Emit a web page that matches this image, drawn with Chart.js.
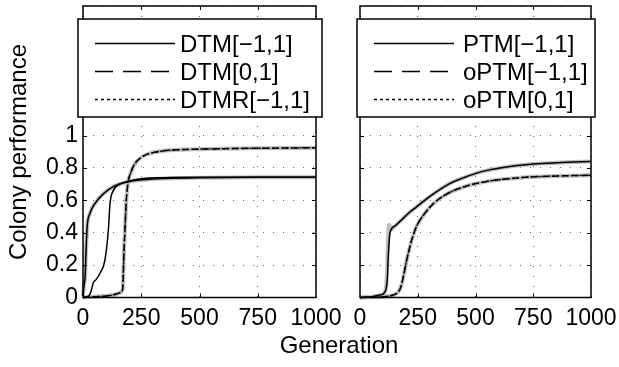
<!DOCTYPE html>
<html>
<head>
<meta charset="utf-8">
<script src="https://cdn.jsdelivr.net/npm/chart.js@4.4.0/dist/chart.umd.min.js"></script>
<style>
  html, body { margin: 0; padding: 0; background: #fff; }
  #wrap { position: relative; width: 619px; height: 367px; overflow: hidden; font-family: 'Liberation Sans', Arial, sans-serif; color: #000; }
  #left { position: absolute; left: 0; top: 0; }
  #right { position: absolute; left: 330px; top: 0; }
  #ytitle { position: absolute; left: -132px; top: 138px; width: 300px; height: 28px; line-height: 28px; text-align: center; font-size: 24px; transform: rotate(-90deg); }
  #xtitle { position: absolute; left: 239px; top: 331px; width: 200px; height: 28px; line-height: 28px; text-align: center; font-size: 24px; }
</style>
</head>
<body>
<div id="wrap">
  <canvas id="left" width="345" height="367"></canvas>
  <canvas id="right" width="289" height="367"></canvas>
  <div id="ytitle">Colony performance</div>
  <div id="xtitle">Generation</div>
</div>
<script>
// --- values ---
const xTicks = [0, 250, 500, 750, 1000];
const yTicks = [0, 0.2, 0.4, 0.6, 0.8, 1];

const leftLegend = ['DTM[\u22121,1]', 'DTM[0,1]', 'DTMR[\u22121,1]'];
const rightLegend = ['PTM[\u22121,1]', 'oPTM[\u22121,1]', 'oPTM[0,1]'];

// left panel: fast riser
const fastGen = [0, 4, 9, 13, 18, 30, 51, 87, 130, 187, 259, 350, 500, 750, 1000];
const fastVal = [0.01, 0.07, 0.13, 0.29, 0.44, 0.52, 0.58, 0.64, 0.685, 0.712, 0.727, 0.735, 0.74, 0.742, 0.742];
// left panel: late riser (solid)
const midGen = [0, 10, 25, 35, 44, 56, 73, 94, 109, 116, 130, 159, 200, 259, 350, 500, 1000];
const midVal = [0, 0.003, 0.01, 0.04, 0.09, 0.11, 0.15, 0.23, 0.42, 0.58, 0.66, 0.70, 0.72, 0.735, 0.74, 0.742, 0.742];
// left panel: steep riser up to 0.92
const steepGen = [0, 50, 100, 140, 160, 170, 176, 181, 185, 190, 195, 205, 216, 230, 245, 265, 288, 320, 358, 420, 500, 650, 800, 1000];
const steepVal = [0, 0.005, 0.01, 0.02, 0.03, 0.05, 0.29, 0.45, 0.58, 0.67, 0.725, 0.77, 0.81, 0.84, 0.86, 0.878, 0.89, 0.90, 0.908, 0.913, 0.916, 0.92, 0.922, 0.925];

// right panel: PTM (upper)
const upperGen = [0, 50, 87, 108, 118, 123, 130, 150, 173, 210, 245, 280, 318, 390, 450, 498, 550, 606, 680, 750, 870, 1000];
const upperVal = [0, 0.005, 0.015, 0.035, 0.11, 0.27, 0.40, 0.44, 0.47, 0.52, 0.56, 0.60, 0.64, 0.705, 0.74, 0.765, 0.785, 0.80, 0.815, 0.825, 0.833, 0.84];
const upperGreyGen = [0, 50, 87, 108, 116, 121, 126, 135, 150, 173, 210, 245, 280, 318, 390, 450, 498, 550, 606, 680, 750, 870, 1000];
const upperGreyVal = [0, 0.005, 0.015, 0.035, 0.12, 0.34, 0.45, 0.42, 0.44, 0.47, 0.52, 0.56, 0.60, 0.64, 0.705, 0.74, 0.765, 0.785, 0.80, 0.815, 0.825, 0.833, 0.84];
// right panel: oPTM (lower)
const lowerGen = [0, 100, 144, 166, 178, 188, 202, 223, 245, 281, 318, 390, 450, 498, 550, 606, 680, 750, 870, 1000];
const lowerVal = [0, 0.005, 0.015, 0.035, 0.07, 0.13, 0.23, 0.35, 0.44, 0.52, 0.58, 0.65, 0.683, 0.702, 0.717, 0.728, 0.738, 0.745, 0.751, 0.755];

Chart.defaults.font.family = "'Liberation Sans', Arial, sans-serif";
Chart.defaults.color = '#000';

const pts = (gen, val) => gen.map((g, i) => ({ x: g, y: val[i] }));

const line = (data, extra) => Object.assign({
    data: data,
    borderColor: '#000',
    borderWidth: 1.5,
    pointRadius: 0,
    fill: false,
    cubicInterpolationMode: 'monotone',
    clip: 4,
    order: 1,
}, extra);

const grey = (data) => line(data, { borderColor: '#bdbdbd', borderWidth: 4, order: 2 });

// inward tick marks + box frame, like the original plot
const frameTicks = {
    id: 'frameTicks',
    afterDatasetsDraw(chart) {
        const { ctx, chartArea: a, scales: { x, y } } = chart;
        ctx.save();
        ctx.strokeStyle = '#000';
        ctx.lineWidth = 1;
        ctx.beginPath();
        x.ticks.forEach(t => {
            if (t.value <= x.min || t.value >= x.max) return;
            const px = Math.round(x.getPixelForValue(t.value)) + 0.5;
            ctx.moveTo(px, a.bottom); ctx.lineTo(px, a.bottom - 4);
            ctx.moveTo(px, a.top); ctx.lineTo(px, a.top + 4);
        });
        y.ticks.forEach(t => {
            if (t.value <= y.min + 1e-6 || t.value >= y.max - 1e-6) return;
            const py = Math.round(y.getPixelForValue(t.value)) + 0.5;
            ctx.moveTo(a.left, py); ctx.lineTo(a.left + 4, py);
            ctx.moveTo(a.right, py); ctx.lineTo(a.right - 4, py);
        });
        ctx.stroke();
        ctx.lineWidth = 1.5;
        ctx.strokeRect(a.left, a.top, a.right - a.left, a.bottom - a.top);
        ctx.restore();
    }
};

// boxed legend sitting over the top of the axes
const boxLegend = {
    id: 'boxLegend',
    afterDraw(chart, args, opts) {
        const { ctx, chartArea: a } = chart;
        const x0 = a.left + opts.padL, x1 = a.right + opts.padR;
        const y0 = a.top + 13, y1 = a.top + 111;
        ctx.save();
        ctx.fillStyle = '#fff';
        ctx.fillRect(x0, y0, x1 - x0, y1 - y0);
        ctx.strokeStyle = '#000';
        ctx.lineWidth = 1.5;
        ctx.strokeRect(x0, y0, x1 - x0, y1 - y0);
        ctx.font = "24px 'Liberation Sans', Arial, sans-serif";
        ctx.fillStyle = '#000';
        ctx.textBaseline = 'alphabetic';
        opts.labels.forEach((lab, i) => {
            const yy = y0 + 24.5 + i * 28;
            ctx.lineWidth = 1.3;
            ctx.setLineDash(opts.dashes[i]);
            ctx.beginPath();
            ctx.moveTo(x0 + 17, yy);
            ctx.lineTo(x0 + 97, yy);
            ctx.stroke();
            ctx.setLineDash([]);
            ctx.fillText(lab, x0 + opts.textX, yy + 8);
        });
        ctx.restore();
    }
};

const legendDashes = [[], [18, 10], [3, 3]];

const makeScales = (showY) => ({
    x: {
        type: 'linear', min: 0, max: 1000,
        afterBuildTicks: s => { s.ticks = xTicks.map(v => ({ value: v })); },
        ticks: { font: { size: 23 }, padding: 7, maxRotation: 0, callback: v => String(v) },
        grid: { color: 'rgba(0,0,0,0.6)', lineWidth: 1, drawTicks: false },
        border: { display: false, dash: [1, 9] },
        afterFit: s => { s.height = 69.5; s.paddingLeft = 0; s.paddingRight = 0; }
    },
    y: {
        type: 'linear', min: 0, max: 1.8,
        ticks: {
            display: showY, stepSize: 0.2, font: { size: 23 }, padding: 5,
            callback: v => yTicks.some(t => Math.abs(t - v) < 1e-6) ? String(Math.round(v * 10) / 10) : ''
        },
        grid: { color: 'rgba(0,0,0,0.6)', lineWidth: 1, drawTicks: false },
        border: { display: false, dash: [1, 9] },
        afterFit: s => { s.width = showY ? 83 : 0; s.paddingTop = 0; s.paddingBottom = 0; }
    }
});

new Chart(document.getElementById('left'), {
    type: 'line',
    data: {
        datasets: [
            line(pts(fastGen, fastVal), { label: leftLegend[0] }),
            line(pts(midGen, midVal), { label: leftLegend[0] }),
            line(pts(steepGen, steepVal), { label: leftLegend[1], borderDash: [7, 3] }),
            line(pts(steepGen, steepVal), { label: leftLegend[2], borderDash: [2, 2.5], borderWidth: 1.3 }),
            grey(pts(fastGen, fastVal)),
            grey(pts(steepGen, steepVal)),
        ]
    },
    options: {
        responsive: false,
        animation: false,
        layout: { padding: { left: 0, right: 29, top: 6, bottom: 0 } },
        scales: makeScales(true),
        plugins: {
            legend: { display: false },
            tooltip: { enabled: false },
            boxLegend: { labels: leftLegend, dashes: legendDashes, padL: -5, padR: 6, textX: 102 }
        }
    },
    plugins: [frameTicks, boxLegend]
});

new Chart(document.getElementById('right'), {
    type: 'line',
    data: {
        datasets: [
            line(pts(upperGen, upperVal), { label: rightLegend[0] }),
            line(pts(lowerGen, lowerVal), { label: rightLegend[1], borderDash: [7, 3] }),
            line(pts(lowerGen, lowerVal), { label: rightLegend[2], borderDash: [2, 2.5], borderWidth: 1.3 }),
            grey(pts(upperGreyGen, upperGreyVal)),
            grey(pts(lowerGen, lowerVal)),
        ]
    },
    options: {
        responsive: false,
        animation: false,
        layout: { padding: { left: 30, right: 28, top: 6, bottom: 0 } },
        scales: makeScales(false),
        plugins: {
            legend: { display: false },
            tooltip: { enabled: false },
            boxLegend: { labels: rightLegend, dashes: legendDashes, padL: -3, padR: 4, textX: 106 }
        }
    },
    plugins: [frameTicks, boxLegend]
});
</script>
</body>
</html>
